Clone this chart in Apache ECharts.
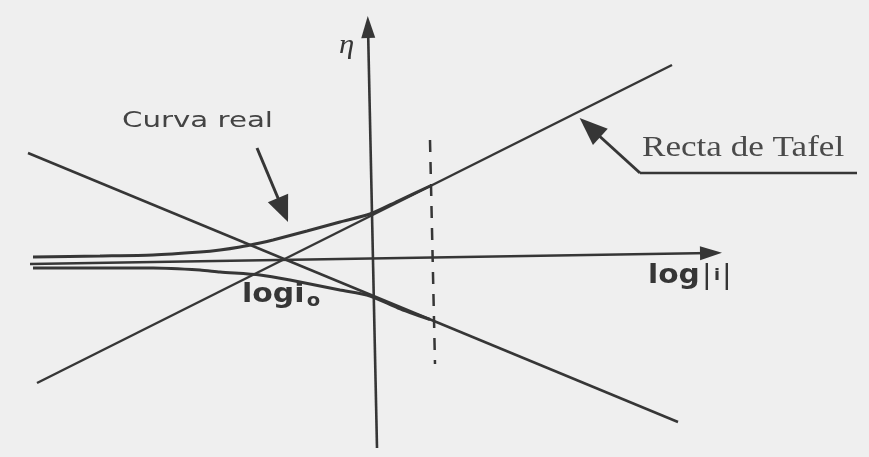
<!DOCTYPE html>
<html>
<head>
<meta charset="utf-8">
<script src="https://cdn.jsdelivr.net/npm/echarts@6/dist/echarts.min.js"></script>
<style>
  html, body { margin: 0; padding: 0; background: #efefef; }
  #chart { width: 869px; height: 457px; }
</style>
</head>
<body>
<div id="chart"></div>
<script>
// Diagrama de Tafel: eta frente a log|i| (unidades arbitrarias, origen en el cruce de ejes)
const curveUpper = [[-6.8, 0.10], [-5.46, 0.12], [-4.4, 0.14], [-3.46, 0.2], [-3.06, 0.24], [-2.66, 0.3],
  [-2.26, 0.38], [-2.0, 0.44], [-1.32, 0.62], [-0.66, 0.8], [-0.06, 0.96], [0.5, 1.22], [1.14, 1.52]];
const curveLower = [[-6.8, -0.12], [-5.46, -0.12], [-4.4, -0.12], [-3.46, -0.16], [-3.06, -0.2], [-2.26, -0.26],
  [-1.66, -0.36], [-0.66, -0.56], [-0.06, -0.68], [0.5, -0.92], [1.14, -1.15]];
const tafelAnodic = [[-6.72, -2.42], [5.98, 3.94]];
const tafelCathodic = [[-6.9, 2.18], [6.1, -3.2]];
const etaAxis = [[0.08, -3.72], [-0.1, 4.7]];
const logAxis = [[-6.86, -0.04], [6.76, 0.18]];
const dashedLine = [[1.14, 2.44], [1.24, -2.04]];
const arrowCurva = [[-2.32, 2.28], [-1.8, 1.04]];
const arrowTafel = [[5.34, 1.78], [4.34, 2.69]];
const underlineTafel = [[5.34, 1.78], [9.68, 1.78]];

// anclas de los textos (coordenadas de datos)
const posEta = [-0.68, 4.32];
const posCurva = [-5.02, 2.82];
const posTafel = [5.38, 2.28];
const posLogI = [5.5, -0.28];
const posLogI0 = [-2.62, -0.66];

const ink = '#363636';
const chart = echarts.init(document.getElementById('chart'));

function plainLine(data, width, type) {
  return {
    type: 'line', data: data, showSymbol: false, clip: false, silent: true,
    lineStyle: { color: ink, width: width, type: type || 'solid' }
  };
}

function curveLine(data) {
  return Object.assign(plainLine(data, 3), { smooth: 0.25 });
}

function arrowLine(pts, width, head) {
  return {
    type: 'line', data: [], silent: true,
    markLine: {
      silent: true, animation: false,
      symbol: ['none', 'triangle'], symbolSize: head,
      label: { show: false },
      lineStyle: { color: ink, width: width, type: 'solid' },
      itemStyle: { color: ink },
      emphasis: { disabled: true },
      data: [[{ coord: pts[0] }, { coord: pts[1] }]]
    }
  };
}

chart.setOption({
  animation: false,
  backgroundColor: '#efefef',
  grid: { left: 23, right: 6, top: 12, bottom: 5 },
  xAxis: { type: 'value', min: -7, max: 9.8, show: false },
  yAxis: { type: 'value', min: -3.8, max: 5, show: false },
  series: [
    plainLine(tafelAnodic, 2.5),
    plainLine(tafelCathodic, 2.5),
    curveLine(curveUpper),
    curveLine(curveLower),
    plainLine(dashedLine, 2.5, [12, 10]),
    plainLine(underlineTafel, 2.5),
    arrowLine(etaAxis, 2.6, [14, 22]),
    arrowLine(logAxis, 2.6, [14, 22]),
    arrowLine(arrowCurva, 3, [22, 26]),
    arrowLine(arrowTafel, 3, [22, 28])
  ]
});

const px = p => chart.convertToPixel({ gridIndex: 0 }, p);

function label(pos, text, font, stretch, extra) {
  const p = px(pos);
  return {
    type: 'text', x: p[0], y: p[1], scaleX: stretch, silent: true,
    style: Object.assign({ text: text, x: 0, y: 0, font: font, fill: ink, align: 'left', verticalAlign: 'middle' }, extra || {})
  };
}

chart.setOption({
  graphic: [
    label(posEta, 'η', 'italic 28px "Liberation Serif"', 1.1),
    label(posCurva, 'Curva real', '22px "DejaVu Sans"', 1.33, { fill: '#444' }),
    label(posTafel, 'Recta de Tafel', '30px "Liberation Serif"', 1.17, { fill: '#4a4a4a' }),
    label(posLogI, '{l|log}{b||}{i|i}{b||}', 'bold 27px "DejaVu Sans"', 1.1, {
      rich: {
        l: { font: 'bold 27px "DejaVu Sans"', fill: ink },
        b: { font: '26px "DejaVu Sans"', fill: ink, padding: [0, 2, 0, 2] },
        i: { font: 'bold 16px "DejaVu Sans"', fill: ink }
      }
    }),
    label(posLogI0, '{l|logi}{s|o}', 'bold 26px "DejaVu Sans"', 1.15, {
      rich: {
        l: { font: 'bold 26px "DejaVu Sans"', fill: ink, lineHeight: 30 },
        s: { font: 'bold 17px "DejaVu Sans"', fill: ink, lineHeight: 4, verticalAlign: 'bottom', padding: [0, 0, 0, 2] }
      }
    })
  ]
});
</script>
</body>
</html>
